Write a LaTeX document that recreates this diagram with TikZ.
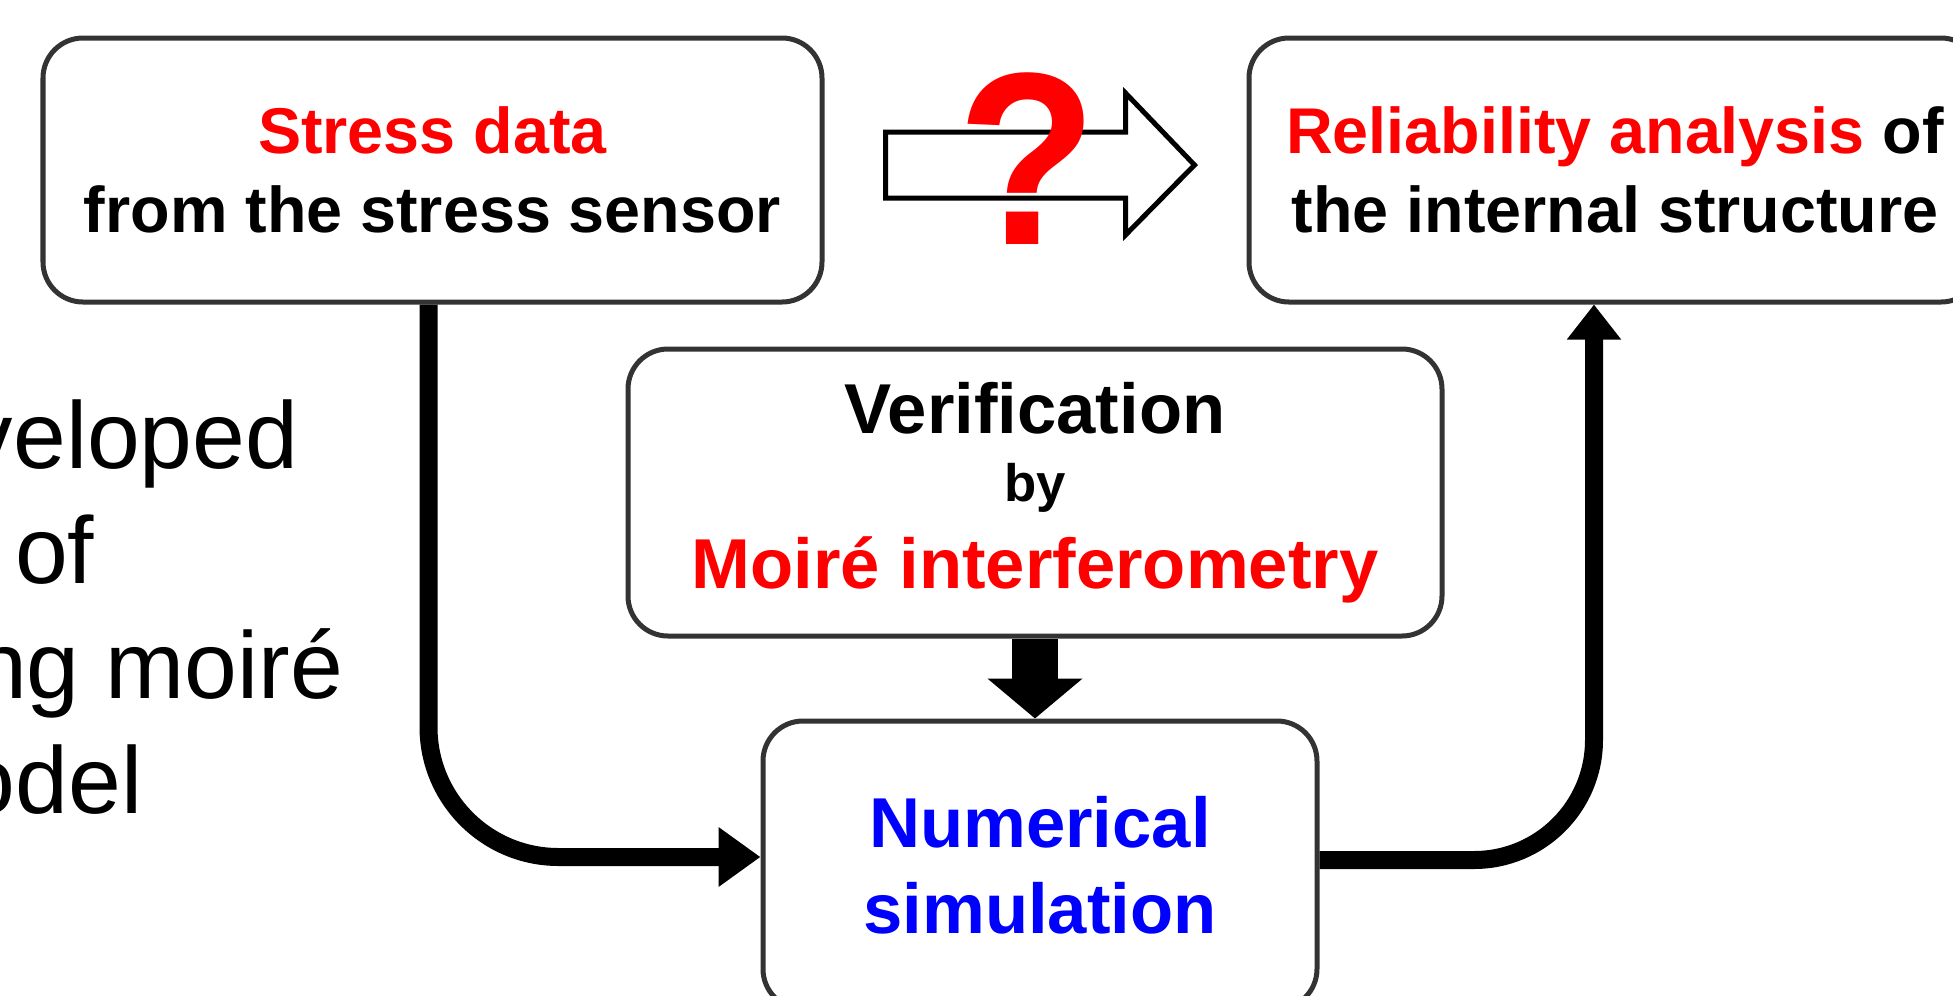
\documentclass[tikz,border=0pt]{standalone}
\usepackage{fontspec}
\setmainfont{Liberation Sans}
\usetikzlibrary{calc,positioning,arrows.meta}
\tikzset{hl/.style={red},sim/.style={blue}}

\begin{document}
\begin{tikzpicture}[x=1cm,y=1cm]

\tikzset{roundbox/.style={draw=black!80,line width=0.05cm,rounded corners=0.4cm,fill=white,align=center,inner sep=0pt,font=\bfseries\fontsize{18.4}{22.5}\selectfont},
bigbox/.style={roundbox,font=\bfseries\fontsize{20.1}{24.5}\selectfont},
flow/.style={line width=0.18cm,rounded corners=1.3cm},
hollowarrow/.style={line width=0.05cm,miter limit=4},
sidetext/.style={anchor=base east,inner sep=0pt,font=\fontsize{27}{32}\selectfont}}

% Frame
\useasboundingbox (0,0) rectangle (19.53,-9.95);
\clip (0,0) rectangle (19.53,-9.95);

% Text on the left (cut by the frame)
\foreach \t/\x/\y [count=\i] in {veloped/2.99/4.68, of/0.95/5.83, ng moiré/3.44/6.98, odel/1.43/8.13}
  \node[sidetext] (side\i) at (\x,-\y) {\t};

% Boxes
\node[roundbox,minimum width=7.79cm,minimum height=2.64cm] (stress) at (4.325,-1.70) {\textcolor{red}{Stress data}\\from the stress sensor};
\node[roundbox,minimum width=7.32cm,minimum height=2.64cm] (reliab) at (16.15,-1.70) {\textcolor{red}{Reliability analysis} of\\the internal structure};
\node[bigbox,minimum width=8.14cm,minimum height=2.87cm] (verif) at (10.35,-4.925) {Verification\\[-5pt]{\fontsize{15}{18}\selectfont by}\\\textcolor{red}{Moiré interferometry}};
\node[bigbox,minimum width=5.54cm,minimum height=2.88cm] (numsim) at (10.40,-8.65) {\textcolor{blue}{Numerical}\\\textcolor{blue}{simulation}};

% Hollow arrow with question mark
\coordinate (gap) at ($(stress.east)!0.5!(reliab.west)$);
\begin{scope}[shift={(gap)}]
\draw[hollowarrow] (-1.50,0.38) -- (0.90,0.38) -- (0.90,0.77) -- (1.59,0.05) -- (0.90,-0.65) -- (0.90,-0.28) -- (-1.50,-0.28) -- cycle;
\end{scope}
\node[font=\bfseries\fontsize{70}{70}\selectfont,text=red,anchor=base,inner sep=0pt,xscale=0.93,transform shape] (qmark) at ($(gap)+(-0.08,-0.74)$) {?};

% Flow arrows
\draw[flow,-{Triangle[length=0.42cm,width=0.57cm]}] ([xshift=-0.04cm]stress.south) |- ([yshift=0.08cm]numsim.west);
\draw[flow,rounded corners=1.2cm,-{Triangle[length=0.35cm,width=0.52cm]}] ([yshift=0.05cm]numsim.east) -| ([xshift=-0.21cm]reliab.south);
\draw[line width=0.46cm,-{Triangle[length=0.40cm,width=0.93cm]}] (verif.south) -- (verif.south |- numsim.north);

\end{tikzpicture}
\end{document}
